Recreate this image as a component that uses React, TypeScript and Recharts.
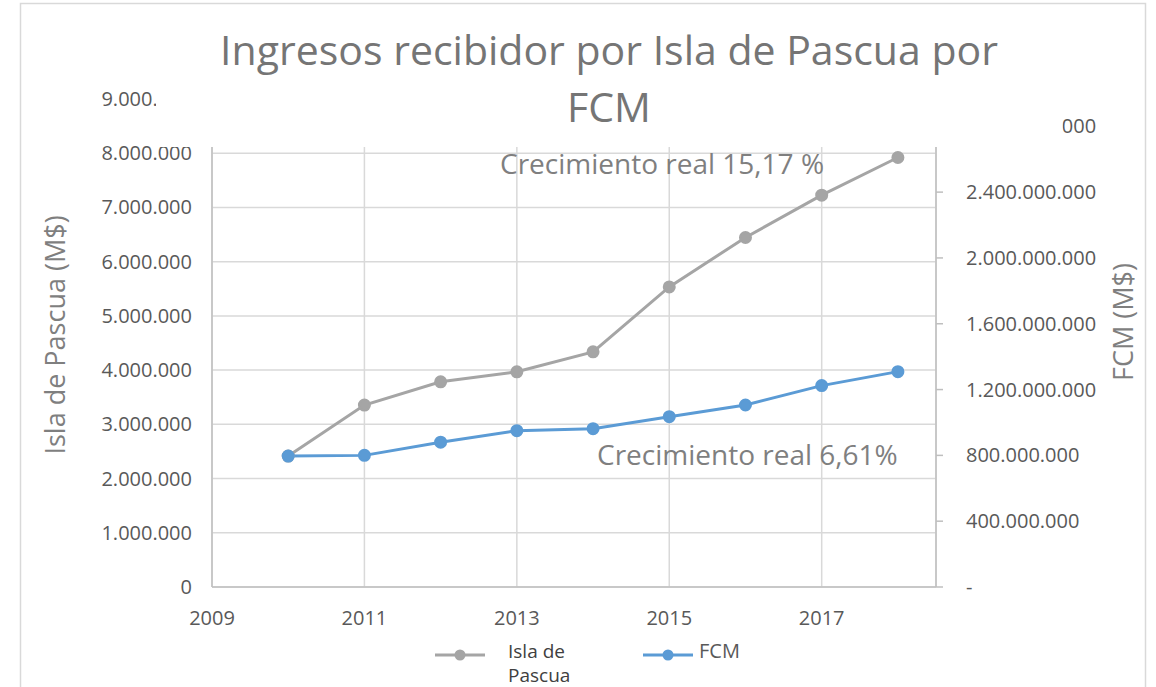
import React from 'react';
import { LineChart, Line, XAxis, YAxis, CartesianGrid } from 'recharts';

const years = [2010, 2011, 2012, 2013, 2014, 2015, 2016, 2017, 2018];
const islaPascua = [2415000, 3355000, 3784000, 3969000, 4337000, 5535000, 6446000, 7226000, 7921000];
const fcm = [796000000, 800000000, 880000000, 950000000, 962000000, 1035000000, 1106000000, 1224000000, 1309000000];

const yearTicks = [2009, 2011, 2013, 2015, 2017];
const leftTicks = [0, 1000000, 2000000, 3000000, 4000000, 5000000, 6000000, 7000000, 8000000, 9000000];
const rightTicks = [0, 400000000, 800000000, 1200000000, 1600000000, 2000000000, 2400000000, 2800000000];

const rows = years.map((year, i) => ({ year, isla: islaPascua[i], fcm: fcm[i] }));

const FONT = '"Open Sans", "Noto Sans", sans-serif';
const GREY = '#a5a5a5';
const BLUE = '#5b9bd5';

const fmt = (v: number) => Math.round(v).toString().replace(/\B(?=(\d{3})+(?!\d))/g, '.');

const XTick = (props: any) => (
    <text x={props.x} y={props.y} textAnchor="middle" fontFamily={FONT} fontSize={20} fill="#595959">
        {props.payload.value}
    </text>
);

const LeftTick = (props: any) => (
    <text x={props.x} y={props.y} dy={7} textAnchor="end" fontFamily={FONT} fontSize={20} fill="#595959">
        {fmt(props.payload.value)}
    </text>
);

const RightTick = (props: any) => (
    <text x={props.x} y={props.y} dy={7} textAnchor="start" fontFamily={FONT} fontSize={20} fill="#595959">
        {props.payload.value === 0 ? '-' : fmt(props.payload.value)}
    </text>
);

const LegendMark = ({ color }: { color: string }) => (
    <svg width={52} height={14} style={{ display: 'block' }}>
        <line x1={1} y1={7} x2={51} y2={7} stroke={color} strokeWidth={3} />
        <circle cx={26} cy={7} r={5.5} fill={color} />
    </svg>
);

const App = () => {
    return (
        <div style={{ position: 'absolute', left: 0, top: 0, width: 1156, height: 687, background: '#fff', overflow: 'hidden', fontFamily: FONT }}>
            <LineChart width={1156} height={687} data={rows} margin={{ top: 99, right: 70, bottom: 60, left: 132 }}>
                <CartesianGrid yAxisId="left" stroke="#d9d9d9" strokeWidth={1.5} />
                <XAxis
                    dataKey="year"
                    type="number"
                    domain={[2009, 2018.5]}
                    ticks={yearTicks}
                    allowDataOverflow
                    height={40}
                    axisLine={{ stroke: '#bfbfbf', strokeWidth: 1.5 }}
                    tickLine={false}
                    tickSize={0}
                    tickMargin={38}
                    tick={XTick}
                />
                <YAxis
                    yAxisId="left"
                    width={80}
                    domain={[0, 9000000]}
                    ticks={leftTicks}
                    allowDataOverflow
                    axisLine={{ stroke: '#bfbfbf', strokeWidth: 1.5 }}
                    tickLine={false}
                    tickSize={0}
                    tickMargin={20}
                    tick={LeftTick}
                />
                <YAxis
                    yAxisId="right"
                    orientation="right"
                    width={150}
                    domain={[0, 2966000000]}
                    ticks={rightTicks}
                    allowDataOverflow
                    axisLine={{ stroke: '#bfbfbf', strokeWidth: 1.5 }}
                    tickLine={{ stroke: '#bfbfbf', strokeWidth: 1.5 }}
                    tickSize={7}
                    tickMargin={23}
                    tick={RightTick}
                />
                <Line
                    yAxisId="left"
                    dataKey="isla"
                    stroke={GREY}
                    strokeWidth={3}
                    dot={{ r: 5.5, fill: GREY, stroke: GREY, strokeWidth: 2 }}
                    isAnimationActive={false}
                />
                <Line
                    yAxisId="right"
                    dataKey="fcm"
                    stroke={BLUE}
                    strokeWidth={3}
                    dot={{ r: 5.5, fill: BLUE, stroke: BLUE, strokeWidth: 2 }}
                    isAnimationActive={false}
                />
            </LineChart>

            {/* title box, notes, axis titles and chart border sit on top */}
            <svg width={1156} height={687} style={{ position: 'absolute', left: 0, top: 0, pointerEvents: 'none' }}>
                <rect x={20.5} y={3.5} width={1125} height={700} fill="none" stroke="#d9d9d9" strokeWidth={1.5} />
                <rect x={156} y={12} width={906.5} height={135} fill="#fff" />
                <text x={609} y={65} textAnchor="middle" fontFamily={FONT} fontSize={41} fill="#757575">
                    Ingresos recibidor por Isla de Pascua por
                </text>
                <text x={609} y={122} textAnchor="middle" fontFamily={FONT} fontSize={41} fill="#757575">
                    FCM
                </text>
                <text x={500} y={174} fontFamily={FONT} fontSize={28} fill="#7f7f7f">
                    Crecimiento real 15,17 %
                </text>
                <text x={597} y={465} fontFamily={FONT} fontSize={28} fill="#7f7f7f">
                    Crecimiento real 6,61%
                </text>
                <text x={65} y={335} transform="rotate(-90 65 335)" textAnchor="middle" fontFamily={FONT} fontSize={27} fill="#7f7f7f">
                    Isla de Pascua (M$)
                </text>
                <text x={1133} y={322} transform="rotate(-90 1133 322)" textAnchor="middle" fontFamily={FONT} fontSize={27} fill="#7f7f7f">
                    FCM (M$)
                </text>
            </svg>

            <div style={{ position: 'absolute', left: 434, top: 648 }}>
                <LegendMark color={GREY} />
            </div>
            <div style={{ position: 'absolute', left: 508, top: 641, fontSize: 19, lineHeight: '20px', color: '#404040' }}>Isla de</div>
            <div style={{ position: 'absolute', left: 508, top: 665, fontSize: 19, lineHeight: '20px', color: '#404040' }}>Pascua</div>
            <div style={{ position: 'absolute', left: 642, top: 648 }}>
                <LegendMark color={BLUE} />
            </div>
            <div style={{ position: 'absolute', left: 699, top: 641, fontSize: 20, lineHeight: '20px', color: '#595959' }}>FCM</div>
        </div>
    );
};

export default App;
